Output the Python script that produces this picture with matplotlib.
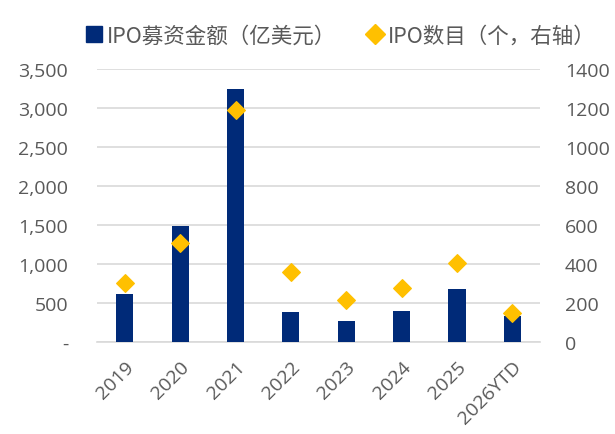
import matplotlib
matplotlib.use("Agg")
import matplotlib.pyplot as plt
from matplotlib.lines import Line2D
from matplotlib.ticker import FuncFormatter

plt.rcParams['font.family'] = ['Open Sans', 'Noto Sans CJK SC', 'DejaVu Sans']

categories = ["2019", "2020", "2021", "2022", "2023", "2024", "2025", "2026YTD"]
ipo_amount = [620, 1490, 3250, 380, 265, 400, 680, 330]
ipo_count = [302, 508, 1190, 361, 217, 275, 405, 149]
left_ticks = [0, 500, 1000, 1500, 2000, 2500, 3000, 3500]
right_ticks = [0, 200, 400, 600, 800, 1000, 1200, 1400]

navy = "#002A78"
gold = "#FFC000"
grey = "#595959"
grid = "#D9D9D9"

fig = plt.figure(figsize=(6.15, 4.35), dpi=100)
ax = fig.add_axes([0.158, 0.2115, 0.72, 0.6275])
ax2 = ax.twinx()

x = list(range(len(categories)))
ax.bar(x, ipo_amount, width=0.31, color=navy, zorder=3)
ax2.scatter(x, ipo_count, marker='D', s=80, color=gold, zorder=4)

ax.set_xlim(-0.5, len(categories) - 0.5)
ax.set_ylim(0, 3500)
ax2.set_ylim(0, 1400)
ax.set_yticks(left_ticks)
ax2.set_yticks(right_ticks)
ax.yaxis.set_major_formatter(FuncFormatter(lambda v, p: "-" if v == 0 else f"{int(v):,}"))

ax.grid(axis='y', color=grid, linewidth=1.2, zorder=0)
ax.set_axisbelow(True)
ax2.set_zorder(ax.get_zorder() + 1)
ax2.patch.set_visible(False)

for a in (ax, ax2):
    for s in a.spines.values():
        s.set_visible(False)
    a.tick_params(length=0, colors=grey, labelsize=14)
ax.spines['bottom'].set_visible(True)
ax.spines['bottom'].set_color(grid)
ax.spines['bottom'].set_linewidth(1.2)

ax.tick_params(axis='y', pad=21)
ax2.tick_params(axis='y', pad=18)
ax.set_xticks(x)
ax.set_xticklabels(categories, rotation=45, ha='right', rotation_mode='anchor')
ax.tick_params(axis='x', pad=11, labelsize=14)

handles = [
    Line2D([], [], marker='s', linestyle='none', color=navy, markersize=11),
    Line2D([], [], marker='D', linestyle='none', color=gold, markersize=10),
]
labels = ["IPO募资金额（亿美元）", "IPO数目（个，右轴）"]
fig.legend(handles, labels, loc='center', bbox_to_anchor=(0.552, 0.915), ncol=2,
           frameon=False, handletextpad=0.1, handlelength=1.0, columnspacing=1.3,
           prop={'family': ['Noto Sans CJK SC', 'DejaVu Sans'], 'size': 15.5},
           labelcolor=grey)

fig.savefig("out.png", dpi=100)
